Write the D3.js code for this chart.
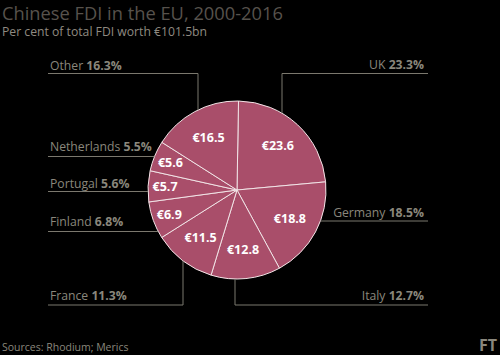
<!DOCTYPE html>
<html><head><meta charset="utf-8">
<script src="https://cdn.jsdelivr.net/npm/d3@7"></script>
<style>
html,body{margin:0;padding:0;background:#000;}
svg{display:block;}
text{font-family:"Open Sans","DejaVu Sans",sans-serif;}
</style></head>
<body>
<script>
// Data
const countries = ["UK","Germany","Italy","France","Finland","Portugal","Netherlands","Other"];
const valuesBn = [23.6,18.8,12.8,11.5,6.9,5.7,5.6,16.5];
const shares = ["23.3%","18.5%","12.7%","11.3%","6.8%","5.6%","5.5%","16.3%"];

// Layout (label placement, not data)
const labelSide = ["right","right","right","left","left","left","left","left"];
const labelTextY = [69,217,300,300,226,188,151,70];
const labelLineY = [73.5,221,305,305,231.5,191.5,156.5,73.5];
const labelVertX = [282,null,235,183,null,null,null,198];

const W=500,H=355, cx=237, cy=190, R=89;
const svg=d3.select("body").append("svg").attr("width",W).attr("height",H);
svg.append("rect").attr("width",W).attr("height",H).attr("fill","#000");

svg.append("text").attr("x",2).attr("y",19.5).attr("fill","#57524c")
  .attr("font-family","Lato, 'Open Sans', sans-serif")
  .attr("font-size",18.3).text("Chinese FDI in the EU, 2000-2016");
svg.append("text").attr("x",2).attr("y",36).attr("fill","#8f8a80")
  .attr("font-size",12.2).text("Per cent of total FDI worth €101.5bn");

const data = countries.map((c,i)=>({c, v:valuesBn[i], s:shares[i], i}));
const start = 0.017;
const pie = d3.pie().value(d=>d.v).sort(null).startAngle(start).endAngle(start+2*Math.PI);
const arcs = pie(data);
const arc = d3.arc().innerRadius(0).outerRadius(R);
const g = svg.append("g").attr("transform",`translate(${cx},${cy})`);

// connectors
const lineCol="#7b786e";
const L = svg.append("g");
data.forEach((d,i)=>{
  const side=labelSide[i], ly=labelLineY[i], vx=labelVertX[i];
  const xOut = side==="left"?48:428;
  let pts;
  if(vx!=null){
    const dx=vx-cx, h=Math.sqrt(R*R-dx*dx);
    const yEdge = ly<cy ? cy-h : cy+h;
    pts=[[xOut,ly],[vx,ly],[vx,yEdge]];
  } else {
    const dy=ly-cy, w=Math.sqrt(R*R-dy*dy);
    const xEdge = side==="left"? cx-w : cx+w;
    pts=[[xOut,ly],[xEdge,ly]];
  }
  L.append("path").attr("d",d3.line()(pts)).attr("fill","none")
    .attr("stroke",lineCol).attr("stroke-width",1);
  const t = svg.append("text").attr("y",labelTextY[i]).attr("fill","#8a877c")
    .attr("font-size",12.2);
  if(side==="left"){ t.attr("x",50).attr("text-anchor","start"); }
  else { t.attr("x",424).attr("text-anchor","end"); }
  t.append("tspan").text(d.c+" ");
  t.append("tspan").attr("font-weight","bold").text(d.s);
});

g.selectAll("path.slice").data(arcs).enter().append("path")
  .attr("class","slice").attr("d",arc).attr("fill","#a94e6a")
  .attr("stroke","#f2e3e6").attr("stroke-width",1);

g.selectAll("text.val").data(arcs).enter().append("text")
  .attr("class","val")
  .attr("transform",d=>{
    const r = d.data.v<10?72:60;
    const a=(d.startAngle+d.endAngle)/2;
    return `translate(${Math.sin(a)*r},${-Math.cos(a)*r})`;
  })
  .attr("text-anchor","middle").attr("dy","0.35em")
  .attr("fill","#fff").attr("font-weight","bold").attr("font-size",12.5)
  .text(d=>"€"+d.data.v);

svg.append("text").attr("x",2).attr("y",351).attr("fill","#8a877c")
  .attr("font-size",10.5).text("Sources: Rhodium; Merics");
svg.append("text").attr("x",497).attr("y",351).attr("text-anchor","end")
  .attr("fill","#8a877c").attr("font-size",16).attr("font-weight","bold")
  .attr("font-family","'Liberation Serif','DejaVu Serif',serif").text("FT");
</script>
</body></html>
